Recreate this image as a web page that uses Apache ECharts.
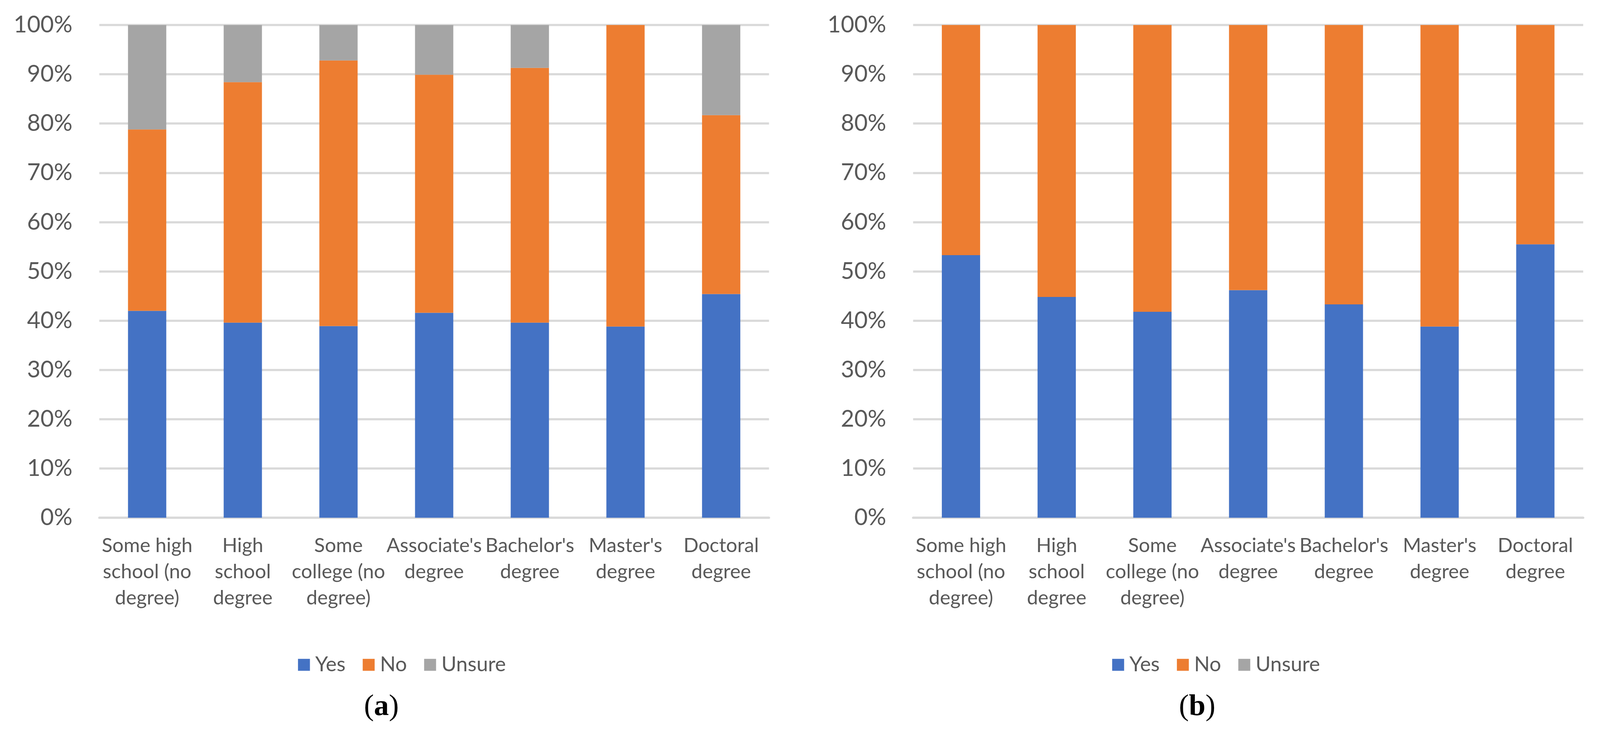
<!DOCTYPE html>
<html>
<head>
<meta charset="utf-8">
<script src="https://cdn.jsdelivr.net/npm/echarts@6/dist/echarts.min.js"></script>
<style>
html,body{margin:0;padding:0;background:#fff;overflow:hidden;}
#chart{width:100vw;height:100vh;}
</style>
</head>
<body>
<div id="chart"></div>
<script>
const categories = ["Some high\nschool (no\ndegree)", "High\nschool\ndegree", "Some\ncollege (no\ndegree)", "Associate's\ndegree", "Bachelor's\ndegree", "Master's\ndegree", "Doctoral\ndegree"];
const seriesNames = ["Yes", "No", "Unsure"];
const yesA = [42.0, 39.6, 38.9, 41.6, 39.6, 38.8, 45.4];
const noA = [36.8, 48.8, 53.9, 48.3, 51.7, 61.2, 36.3];
const unsureA = [21.2, 11.6, 7.2, 10.1, 8.7, 0, 18.3];
const yesB = [53.3, 44.8, 41.8, 46.2, 43.3, 38.8, 55.5];
const noB = [46.7, 55.2, 58.2, 53.8, 56.7, 61.2, 44.5];
const unsureB = [0, 0, 0, 0, 0, 0, 0];
const captions = ["a", "b"];

const colors = ["#4472C4", "#ED7D31", "#A5A5A5"];
const textColor = "#595959";
const gridColor = "#D9D9D9";
const font = "Lato";

const el = document.getElementById("chart");
const W = el.clientWidth || window.innerWidth;
const H = el.clientHeight || window.innerHeight;
const sx = W / 4286, sy = H / 1876, sf = Math.min(sx, sy);
const X = v => v * sx, Y = v => v * sy, F = v => v * sf;

function xAxis(i) {
  return {
    type: "category", gridIndex: i, data: categories,
    axisLine: {show: true, lineStyle: {color: gridColor, width: F(6)}},
    axisTick: {show: false},
    axisLabel: {interval: 0, color: textColor, fontFamily: font, fontSize: F(53), lineHeight: F(70), margin: Y(38)}
  };
}
function yAxis(i) {
  return {
    type: "value", gridIndex: i, min: 0, max: 100, interval: 10,
    axisLine: {show: false}, axisTick: {show: false},
    splitLine: {lineStyle: {color: gridColor, width: F(6)}},
    axisLabel: {formatter: "{value}%", color: textColor, fontFamily: font, fontSize: F(62), margin: X(72)}
  };
}
function bar(name, data, idx, color) {
  return {
    name: name, type: "bar", stack: "s" + idx, xAxisIndex: idx, yAxisIndex: idx,
    data: data, barWidth: "40%", itemStyle: {color: color}
  };
}
function legend(left) {
  return {
    data: seriesNames, left: X(left), top: Y(1670), icon: "rect",
    itemWidth: F(32), itemHeight: F(32), itemGap: X(46),
    textStyle: {color: textColor, fontFamily: font, fontSize: F(55), padding: [0, 0, 0, F(9)]}
  };
}
function caption(letter, cx) {
  return {
    type: "text", left: X(cx - 45), top: Y(1772),
    style: {
      text: "{p|(}{b|" + letter + "}{p|)}",
      rich: {
        p: {fontFamily: "Liberation Serif", fontSize: F(80), fill: "#000"},
        b: {fontFamily: "Liberation Serif", fontSize: F(80), fontWeight: "bold", fill: "#000"}
      }
    }
  };
}

const chart = echarts.init(el, null, {width: W, height: H});
chart.setOption({
  animation: false,
  backgroundColor: "#fff",
  color: colors,
  grid: [
    {left: X(266), top: Y(64), width: X(1794), height: Y(1261)},
    {left: X(2446), top: Y(64), width: X(1795), height: Y(1261)}
  ],
  xAxis: [xAxis(0), xAxis(1)],
  yAxis: [yAxis(0), yAxis(1)],
  legend: [legend(793), legend(2974)],
  series: [
    bar("Yes", yesA, 0, colors[0]), bar("No", noA, 0, colors[1]), bar("Unsure", unsureA, 0, colors[2]),
    bar("Yes", yesB, 1, colors[0]), bar("No", noB, 1, colors[1]), bar("Unsure", unsureB, 1, colors[2])
  ],
  graphic: [caption(captions[0], 1020), caption(captions[1], 3203)]
});
</script>
</body>
</html>
